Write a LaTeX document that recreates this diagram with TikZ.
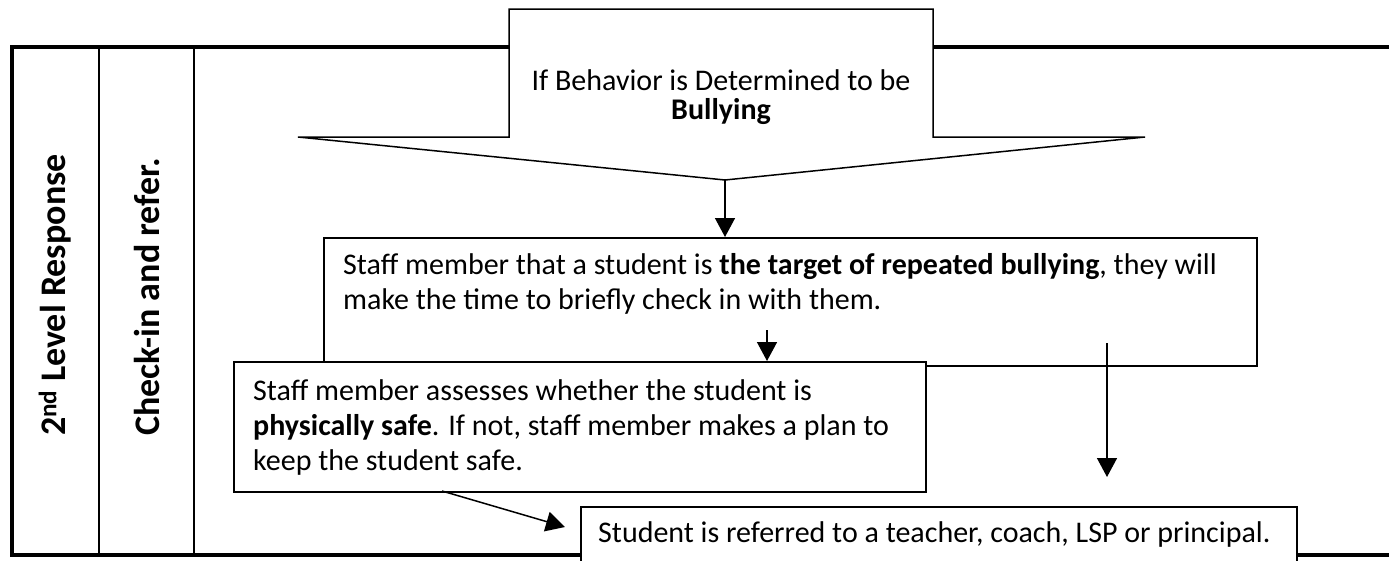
\documentclass[tikz,border=0pt]{standalone}
\usepackage{fontspec}
\setmainfont{Carlito}
\usetikzlibrary{arrows.meta}
\tikzset{
    frame-line/.style = {line width=4pt},
    lane-line/.style = {line width=2pt},
    flow-box/.style = {draw, fill=white, line width=1.5pt, rectangle, anchor=north west, inner sep=0pt},
    flow-text/.style = {anchor=north west, align=left, inner sep=0pt, font=\fontsize{30}{35}\selectfont},
    lane-title/.style = {rotate=90, inner sep=0pt, font=\fontsize{36}{42}\selectfont\bfseries},
    flow-arrow/.style = {line width=1.5pt, -{Triangle[length=19pt, width=20pt]}},
}

\begin{document}
\begin{tikzpicture}[x=1pt, y=-1pt]
\useasboundingbox (0,0) rectangle (1389,560);
% outer frame and lanes
\draw[frame-line] (1389,47) -- (12,47) -- (12,555) -- (1389,555);
\draw[lane-line] (99,47) -- (99,555);
\draw[lane-line] (194,47) -- (194,555);
\node[lane-title] (level) at (55,295) {2\textsuperscript{nd} Level Response};
\node[lane-title] (lane) at (147,297) {Check-in and refer.};

% decision callout
\draw[fill=white, line width=1.5pt] (509,137) -- (509,9) -- (933,9) -- (933,137) -- (1145,137) -- (725,180) -- (298,137) -- cycle;
\coordinate (tip) at (725,180);
\node[flow-text, anchor=north, align=center, font=\fontsize{30}{29}\selectfont] (decide) at (721,69) {If Behavior is Determined to be\\\textbf{Bullying}};

% steps
\node[flow-box, minimum width=933pt, minimum height=128pt] (check) at (323,237) {};
\node[flow-text] (checktext) at (343,253) {Staff member that a student is \textbf{the target of repeated bullying}, they will\\make the time to briefly check in with them.};
\node[flow-box, minimum width=692pt, minimum height=130pt] (assess) at (233,361) {};
\node[flow-text] (assesstext) at (253,379) {Staff member assesses whether the student is\\\textbf{physically safe}. If not, staff member makes a plan to\\keep the student safe.};
\node[flow-box, minimum width=716pt, minimum height=56pt] (refer) at (580,506) {};
\node[flow-text] (refertext) at (598,521) {Student is referred to a teacher, coach, LSP or principal.};

% arrows
\coordinate (s1) at (767,330);
\coordinate (s2) at (1107,343);
\coordinate (e2) at (1107,477);
\coordinate (d1) at (442,491);
\coordinate (d2) at (565,527);
\draw[flow-arrow] (tip) -- (tip |- check.north);
\draw[flow-arrow] (s1) -- (s1 |- assess.north);
\draw[flow-arrow] (s2) -- (e2);
\draw[flow-arrow] (d1) -- (d2);
\end{tikzpicture}
\end{document}
